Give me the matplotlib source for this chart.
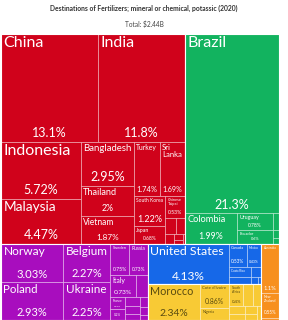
import matplotlib
matplotlib.use("Agg")
import matplotlib.pyplot as plt
from matplotlib.patches import Rectangle

# Share of world imports (%) by destination, grouped by continent
asia_names = ["China", "India", "Indonesia", "Malaysia", "Bangladesh", "Thailand",
              "Vietnam", "Turkey", "Sri Lanka", "South Korea", "Japan", "Chinese Taipei",
              "Philippines", "Pakistan", "Myanmar", "Saudi Arabia", "Israel", "Nepal"]
asia_share = [13.1, 11.8, 5.72, 4.47, 2.95, 2.0, 1.87, 1.74, 1.69, 1.22, 0.68, 0.53,
              0.22, 0.18, 0.10, 0.07, 0.04, 0.02]

samerica_names = ["Brazil", "Colombia", "Uruguay", "Ecuador", "Paraguay", "Chile", "Peru"]
samerica_share = [21.3, 1.99, 0.78, 0.6, 0.13, 0.06, 0.04]

europe_names = ["Norway", "Poland", "Belgium", "Ukraine", "Sweden", "Russia", "Italy",
                "Netherlands", "France", "Germany", "Denmark", "Finland", "Lithuania",
                "Spain", "United Kingdom", "Estonia"]
europe_share = [3.03, 2.93, 2.27, 2.25, 0.75, 0.73, 0.73, 0.33, 0.22, 0.2, 0.17, 0.15,
                0.12, 0.1, 0.08, 0.05]

namerica_names = ["United States", "Canada", "Mexico", "Costa Rica", "Guatemala",
                  "Honduras", "Dominican Republic", "Nicaragua"]
namerica_share = [4.13, 0.53, 0.43, 0.28, 0.2, 0.13, 0.07, 0.03]

africa_names = ["Morocco", "Cote d'Ivoire", "Nigeria", "South Africa", "Mozambique",
                "Zambia", "Kenya", "Zimbabwe", "Ghana", "Tanzania", "Senegal"]
africa_share = [2.34, 0.86, 0.45, 0.4, 0.27, 0.23, 0.15, 0.13, 0.11, 0.09, 0.07]

oceania_names = ["Australia", "New Zealand", "Fiji"]
oceania_share = [1.1, 0.55, 0.05]

title = "Destinations of Fertilizers; mineral or chemical, potassic (2020)"
subtitle = r"Total: \$2.44B"

FONT = "Lato"
PHI = (1 + 5 ** 0.5) / 2

groups = [
    (asia_names, asia_share, "#D0021B", "white"),
    (samerica_names, samerica_share, "#12B35F", "white"),
    (europe_names, europe_share, "#A80DBE", "white"),
    (namerica_names, namerica_share, "#1668E8", "white"),
    (africa_names, africa_share, "#F8CA35", "#5a4b10"),
    (oceania_names, oceania_share, "#F7901E", "white"),
]


def squarify(values, x0, y0, x1, y1):
    # same tiling as d3.treemapSquarify (golden ratio)
    rects = [None] * len(values)
    total = float(sum(values))
    n = len(values)
    i0 = i1 = 0
    while i0 < n:
        dx, dy = x1 - x0, y1 - y0
        s = values[i1]
        i1 += 1
        vmin = vmax = s
        alpha = max(dy / dx, dx / dy) / (total * PHI)
        beta = s * s * alpha
        best = max(vmax / beta, beta / vmin)
        while i1 < n:
            v = values[i1]
            lo, hi = min(vmin, v), max(vmax, v)
            beta = (s + v) ** 2 * alpha
            r = max(hi / beta, beta / lo)
            if r > best:
                break
            s, vmin, vmax, best = s + v, lo, hi, r
            i1 += 1
        if dx < dy:
            h = dy * s / total
            xx = x0
            for i in range(i0, i1):
                w = dx * values[i] / s
                rects[i] = (xx, y0, w, h)
                xx += w
            y0 += h
        else:
            w = dx * s / total
            yy = y0
            for i in range(i0, i1):
                h = dy * values[i] / s
                rects[i] = (x0, yy, w, h)
                yy += h
            x0 += w
        total -= s
        i0 = i1
    return rects


fig = plt.figure(figsize=(2.88, 3.2), dpi=100)
ax = fig.add_axes([0, 0, 1, 1])
ax.set_xlim(0, 288)
ax.set_ylim(320, 0)
ax.axis("off")
renderer = fig.canvas.get_renderer()
placed = []


def text_box(s, size=10):
    t = ax.text(0, 0, s, fontsize=size, family=FONT, linespacing=1.0)
    bb = t.get_window_extent(renderer)
    t.remove()
    return bb.width, bb.height


def put_text(x, y, s, size, color, ha, va):
    # shrink a label until it clears the ones already drawn
    while size >= 1.6:
        t = ax.text(x, y, s, fontsize=size, family=FONT, color=color,
                    ha=ha, va=va, linespacing=1.0)
        bb = t.get_window_extent(renderer)
        if not any(bb.overlaps(p) for p in placed):
            placed.append(bb)
            return
        t.remove()
        size *= 0.85


def draw_label(name, share, x, y, w, h, color):
    pad = 2.5
    avail = w - 2 * pad
    if avail < 3 or h < 6:
        return
    size = min(11.5, 0.22 * h, 10 * avail / text_box(name)[0])
    label = name
    if " " in name:
        two = name.replace(" ", "\n", 1)
        s2 = min(11.5, 0.13 * h, 10 * avail / text_box(two)[0])
        if s2 > 1.25 * size:
            label, size = two, s2
    pct = f"{share:.3g}%"
    psize = min(9, 0.21 * h, 10 * avail / text_box(pct)[0])
    need = text_box(label)[1] * size / 10 + text_box(pct)[1] * psize / 10 + 4.5
    if need > h:
        k = max(h - 4.5, 1) / (need - 4.5)
        size *= k
        psize *= k
    if size >= 2:
        put_text(x + pad, y + 2, label, size, color, "left", "top")
    if psize >= 2:
        put_text(x + w / 2, y + h - 2.5, pct, psize, color, "center", "bottom")


groups.sort(key=lambda g: -sum(g[1]))
totals = [sum(g[1]) for g in groups]
group_rects = squarify(totals, 1, 34, 279, 320)

for (names, shares, fill, tcolor), (gx, gy, gw, gh) in zip(groups, group_rects):
    order = sorted(range(len(shares)), key=lambda i: -shares[i])
    vals = [shares[i] for i in order]
    cells = squarify(vals, gx, gy, gx + gw, gy + gh)
    for i, (cx, cy, cw, ch) in zip(order, cells):
        ax.add_patch(Rectangle((cx, cy), cw, ch, facecolor=fill,
                               edgecolor=(1, 1, 1, 0.45), linewidth=0.5))
        draw_label(names[i], shares[i], cx, cy, cw, ch, tcolor)
    ax.add_patch(Rectangle((gx, gy), gw, gh, facecolor="none",
                           edgecolor="white", linewidth=0.8))

ax.text(144, 8, title, fontsize=4.9, family=FONT, weight="bold", color="#333333",
        ha="center", va="center")
ax.text(144, 24, subtitle, fontsize=4.7, family=FONT, color="#444444",
        ha="center", va="center")

fig.savefig("out.png", dpi=100)
